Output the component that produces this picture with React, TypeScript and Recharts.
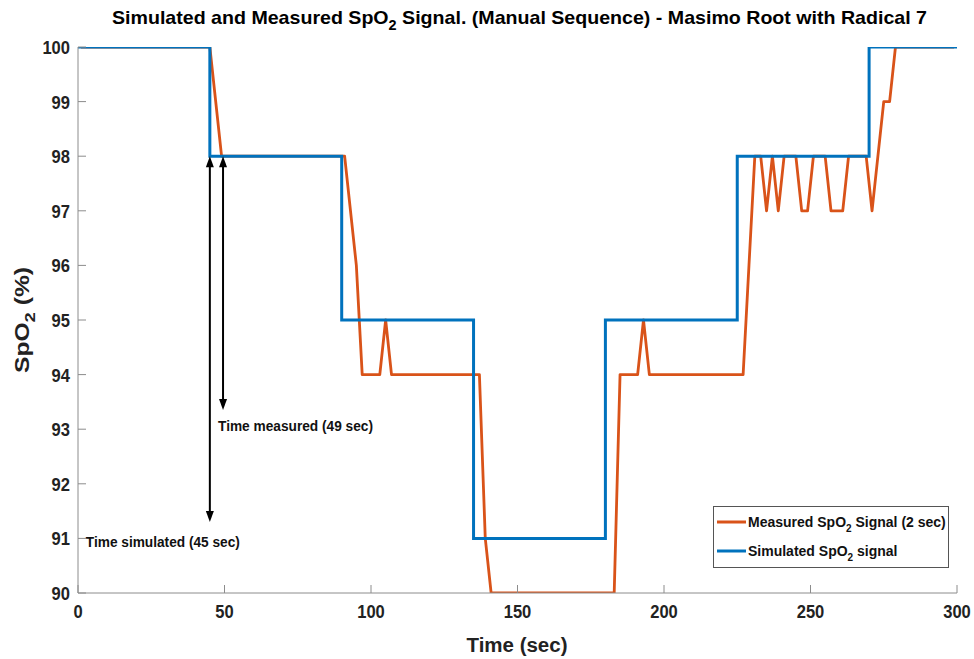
import React from 'react';
import { LineChart, Line, XAxis, YAxis, ReferenceLine } from 'recharts';

const simulatedTime = [0, 45, 90, 135, 180, 225, 270, 300];
const simulatedSpO2 = [100, 98, 95, 91, 95, 98, 100, 100];

const measuredTime = [1, 45, 49, 91, 95, 97, 103, 105, 107, 137, 139, 141, 183, 185, 191, 193, 195, 227, 229, 231, 233, 235, 237, 239, 241, 245, 247, 249, 251, 255, 257, 261, 263, 269, 271, 275, 277, 279, 299];
const measuredSpO2 = [100, 100, 98, 98, 96, 94, 94, 95, 94, 94, 91, 90, 90, 94, 94, 95, 94, 94, 96, 98, 98, 97, 98, 97, 98, 98, 97, 97, 98, 98, 97, 97, 98, 98, 97, 99, 99, 100, 100];

const xTicks = [0, 50, 100, 150, 200, 250, 300];
const yTicks = [90, 91, 92, 93, 94, 95, 96, 97, 98, 99, 100];

const arrowTimes = [45, 49.5];
const arrowTop = 98;
const arrowBottoms = [91.3, 93.35];
const arrowLabels = ['Time simulated (45 sec)', 'Time measured (49 sec)'];

const simulatedData = simulatedTime.map((t, i) => ({ t, v: simulatedSpO2[i] }));
const measuredData = measuredTime.map((t, i) => ({ t, v: measuredSpO2[i] }));

const FONT = "'Liberation Sans Narrow', 'Arial Narrow', 'Liberation Sans', Arial, sans-serif";
const AXIS = '#8c8c8c';
const TXT = '#222222';
const ORANGE = '#D95319';
const BLUE = '#0072BD';

const XTick = (p: any) => {
  const { x, y, payload } = p;
  const ay = y - 9;
  const s = String(payload.value);
  return (
    <g>
      <line x1={x} x2={x} y1={ay} y2={ay - 8} stroke={AXIS} strokeWidth={1} />
      <text x={x} y={y + 16} textAnchor="middle" fontFamily={FONT} fontWeight="bold" fontSize={19} fill={TXT} textLength={s.length * 9.2} lengthAdjust="spacingAndGlyphs">
        {s}
      </text>
    </g>
  );
};

const YTick = (p: any) => {
  const { x, y, payload } = p;
  const ax = x + 8;
  const s = String(payload.value);
  return (
    <g>
      <line x1={ax} x2={ax + 8} y1={y} y2={y} stroke={AXIS} strokeWidth={1} />
      <text x={x} y={y + 7} textAnchor="end" fontFamily={FONT} fontWeight="bold" fontSize={19} fill={TXT} textLength={s.length * 9.2} lengthAdjust="spacingAndGlyphs">
        {s}
      </text>
    </g>
  );
};

const makeArrow = (label: string, dx: number, dy: number, len: number) => (p: any) => {
  const { x1, y1, x2, y2 } = p;
  const top = Math.min(y1, y2);
  const bot = Math.max(y1, y2);
  const x = x1;
  const h = 11;
  const w = 4;
  return (
    <g>
      <line x1={x} x2={x} y1={top + h - 1} y2={bot - h + 1} stroke="#000" strokeWidth={2} />
      <polygon points={`${x},${top} ${x - w},${top + h} ${x + w},${top + h}`} fill="#000" />
      <polygon points={`${x},${bot} ${x - w},${bot - h} ${x + w},${bot - h}`} fill="#000" />
      <text x={x + dx} y={bot + dy} fontFamily={FONT} fontWeight="bold" fontSize={14} fill="#111" textLength={len} lengthAdjust="spacingAndGlyphs">
        {label}
      </text>
    </g>
  );
};

export default function App() {
  return (
    <div style={{ position: 'absolute', left: 0, top: 0, width: 974, height: 659, background: '#fff' }}>
      <LineChart width={974} height={659} margin={{ top: 47, right: 17, bottom: 0, left: 0 }}>
        <XAxis
          type="number"
          dataKey="t"
          domain={[0, 300]}
          ticks={xTicks}
          interval={0}
          height={66}
          tickSize={0}
          tickMargin={9}
          stroke={AXIS}
          tick={(p: any) => <XTick {...p} />}
          allowDataOverflow
        />
        <YAxis
          type="number"
          domain={[90, 100]}
          ticks={yTicks}
          interval={0}
          width={78}
          tickSize={0}
          tickMargin={8}
          stroke={AXIS}
          tick={(p: any) => <YTick {...p} />}
          allowDataOverflow
        />
        <Line
          data={measuredData}
          dataKey="v"
          type="linear"
          stroke={ORANGE}
          strokeWidth={2.8}
          dot={false}
          activeDot={false}
          isAnimationActive={false}
          strokeLinejoin="round"
        />
        <Line
          data={simulatedData}
          dataKey="v"
          type="stepAfter"
          stroke={BLUE}
          strokeWidth={3}
          dot={false}
          activeDot={false}
          isAnimationActive={false}
        />
        <ReferenceLine
          segment={[{ x: arrowTimes[0], y: arrowTop }, { x: arrowTimes[0], y: arrowBottoms[0] }]}
          shape={makeArrow(arrowLabels[0], -124, 25, 154)}
          ifOverflow="visible"
        />
        <ReferenceLine
          segment={[{ x: arrowTimes[1], y: arrowTop }, { x: arrowTimes[1], y: arrowBottoms[1] }]}
          shape={makeArrow(arrowLabels[1], -5, 21, 155)}
          ifOverflow="visible"
        />
      </LineChart>
      <svg
        width={974}
        height={659}
        style={{ position: 'absolute', left: 0, top: 0, pointerEvents: 'none' }}
      >
        <text x={519.5} y={24} textAnchor="middle" fontFamily={FONT} fontWeight="bold" fontSize={19} fill="#000" textLength={815} lengthAdjust="spacingAndGlyphs">
          Simulated and Measured SpO<tspan dy={6} fontSize={14}>2</tspan><tspan dy={-6}> Signal. (Manual Sequence) - Masimo Root with Radical 7</tspan>
        </text>
        <text x={517} y={652} textAnchor="middle" fontFamily={FONT} fontWeight="bold" fontSize={20} fill={TXT} textLength={101} lengthAdjust="spacingAndGlyphs">
          Time (sec)
        </text>
        <text transform="translate(29,320) rotate(-90)" textAnchor="middle" fontFamily={FONT} fontWeight="bold" fontSize={20} fill={TXT} textLength={106} lengthAdjust="spacingAndGlyphs">
          SpO<tspan dy={6} fontSize={15}>2</tspan><tspan dy={-6}> (%)</tspan>
        </text>
        <rect x={713.5} y={506.5} width={235} height={61} fill="#fff" stroke="#555" strokeWidth={1} />
        <line x1={717} x2={746} y1={522} y2={522} stroke={ORANGE} strokeWidth={3} />
        <text x={748} y={527} fontFamily={FONT} fontWeight="bold" fontSize={14} fill="#111">
          Measured SpO<tspan dy={5} fontSize={10}>2</tspan><tspan dy={-5}> Signal (2 sec)</tspan>
        </text>
        <line x1={717} x2={746} y1={551} y2={551} stroke={BLUE} strokeWidth={3} />
        <text x={748} y={556} fontFamily={FONT} fontWeight="bold" fontSize={14} fill="#111">
          Simulated SpO<tspan dy={5} fontSize={10}>2</tspan><tspan dy={-5}> signal</tspan>
        </text>
      </svg>
    </div>
  );
}
